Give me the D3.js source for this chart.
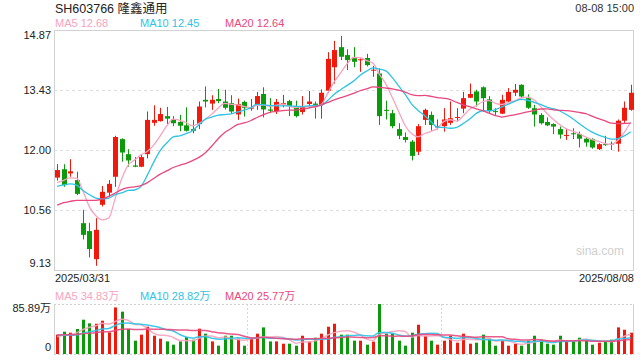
<!DOCTYPE html>
<html>
<head>
<meta charset="utf-8">
<script src="https://cdn.jsdelivr.net/npm/d3@7"></script>
<style>
  html, body { margin: 0; padding: 0; background: #fff; }
  svg { display: block; }
  text { font-family: "Liberation Sans", Arial, "Noto Sans CJK SC", sans-serif; }
</style>
</head>
<body>
<svg id="chart" width="640" height="360"></svg>
<script>
// ---------- DATA ----------
const title = "SH603766 隆鑫通用";
const timeLabel = "08-08 15:00";
const firstDate = "2025/03/31";
const lastDate = "2025/08/08";
const priceMALabels = ["MA5 12.68", "MA10 12.45", "MA20 12.64"];
const volMALabels = ["MA5 34.83万", "MA10 28.82万", "MA20 25.77万"];
const priceTickValues = [14.87, 13.435, 12.00, 10.565, 9.13];
const priceTickLabels = ["14.87", "13.43", "12.00", "10.56", "9.13"];
const volTickValues = [85.89, 0];
const volTickLabels = ["85.89万", "0"];
const watermark = "sina.com";

const opens = [11.34,11.54,11.44,11.28,10.25,10.06,9.39,10.69,10.98,11.36,
  12.26,11.90,11.63,11.60,11.90,12.65,12.69,12.81,12.73,12.67,
  12.59,12.50,12.62,13.20,13.11,13.22,13.16,13.12,12.85,13.15,
  12.99,13.07,13.34,12.97,12.93,13.10,13.17,13.04,12.91,13.10,
  13.11,13.08,13.42,13.98,14.46,14.27,14.22,14.15,14.20,13.90,
  13.83,12.96,12.88,12.50,12.31,12.20,11.96,12.72,12.84,12.54,
  12.57,12.65,12.77,12.99,13.25,13.40,13.50,13.21,12.93,12.87,
  13.16,13.37,13.56,13.24,13.00,12.84,12.67,12.62,12.50,12.34,
  12.40,12.38,12.27,12.26,12.02,12.14,12.15,12.15,12.70,12.96];
const highs = [11.66,11.66,11.78,11.48,10.57,10.26,10.37,11.14,11.28,12.34,
  12.28,12.02,11.83,11.90,12.92,13.07,13.01,13.03,12.81,12.84,
  13.02,12.72,13.16,13.52,13.31,13.46,13.44,13.31,13.23,13.18,
  13.22,13.39,13.50,13.24,13.22,13.32,13.20,13.18,13.29,13.41,
  13.16,13.45,14.34,14.61,14.73,14.41,14.46,14.19,14.30,14.01,
  13.95,13.18,12.96,12.64,12.42,12.24,12.62,12.99,12.92,12.73,
  13.00,13.16,13.00,13.39,13.59,13.44,13.52,13.29,13.00,13.32,
  13.48,13.58,13.57,13.33,13.08,12.88,12.78,12.64,12.56,12.51,
  12.52,12.44,12.30,12.28,12.16,12.34,12.20,12.73,13.16,13.56];
const lows = [11.27,11.12,11.36,10.92,9.86,9.43,9.23,10.65,10.88,11.12,
  11.72,11.60,11.59,11.59,11.80,12.58,12.68,12.62,12.57,12.45,
  12.44,12.40,12.50,13.02,12.96,13.12,12.97,12.86,12.72,12.80,
  12.94,12.96,12.78,12.88,12.86,13.02,12.81,12.78,12.85,13.00,
  12.75,12.75,13.36,13.59,14.15,13.91,13.98,13.87,14.00,13.75,
  12.60,12.73,12.52,12.26,12.18,11.75,11.88,12.60,12.46,12.49,
  12.44,12.60,12.68,12.88,13.24,13.04,12.92,12.88,12.84,12.86,
  13.13,13.29,13.24,12.98,12.56,12.61,12.57,12.38,12.27,12.24,
  12.26,12.06,12.08,12.03,12.00,12.10,12.00,11.96,12.65,12.94];
const closes = [11.52,11.16,11.49,10.95,9.97,9.63,10.09,11.00,11.19,12.31,
  11.94,11.75,11.60,11.83,12.72,12.72,12.86,12.75,12.64,12.58,
  12.46,12.46,13.04,13.16,13.20,13.17,13.01,12.92,13.10,13.01,
  13.02,13.29,12.97,12.94,13.15,13.12,13.05,12.81,13.04,13.16,
  13.08,13.37,14.18,14.39,14.23,14.15,14.11,14.17,14.03,13.92,
  12.81,12.94,12.57,12.34,12.24,11.86,12.57,12.96,12.60,12.57,
  12.73,12.76,12.79,13.24,13.34,13.16,13.24,12.93,12.91,13.20,
  13.39,13.44,13.28,13.01,12.85,12.64,12.59,12.56,12.37,12.36,
  12.38,12.27,12.18,12.06,12.14,12.13,12.14,12.70,13.01,13.37];
// volumes in 万 shares
const volumes = [33.2,38.3,36.6,43.0,58.9,52.6,52.0,57.2,37.1,80.0,
  72.7,43.0,22.9,33.2,46.9,31.4,26.3,21.6,16.0,21.6,
  29.2,24.6,43.5,34.9,21.6,14.3,31.4,31.4,26.3,14.3,
  27.5,34.9,45.7,21.6,21.6,17.7,17.7,14.3,31.4,21.6,
  28.0,34.9,46.9,52.0,33.2,33.2,22.9,22.9,16.0,21.3,
  85.89,34.9,34.9,22.9,14.3,36.6,50.3,31.4,22.9,16.0,
  22.9,31.4,19.4,34.9,17.7,19.4,33.2,26.3,14.3,22.9,
  14.3,17.7,14.3,22.9,31.4,24.6,17.7,16.0,31.4,22.9,
  22.9,28.0,24.6,16.0,19.4,21.3,24.6,45.7,41.7,36.6];
// sessions before the window (estimated from where the MA lines start)
const priorCloses = [10.00,10.89,10.40,9.97,9.63,10.09,10.30,9.99,10.71,10.34,
  10.81,11.24,11.25,11.27,10.63,10.89,11.20,10.99,11.51];
const priorVolumes = [30,36,28,33,40,31,27,35,38,30,34,42,36,29,33,26,31,28,30];

const maPeriods = [5, 10, 20];
const maColors = ["#f7a3c0", "#2ec3e6", "#e8487e"];
const upColor = "#f0190c";
const downColor = "#0a9a0a";

// ---------- LAYOUT ----------
const svg = d3.select("#chart");
const L = 54, R = 634;
const pTop = 30, pBot = 270;
const vTop = 304, vBot = 354;
const n = closes.length;
const idx = d3.range(n);

const x = d3.scaleBand().domain(idx).range([L, R]).padding(0);
const cx = i => x(i) + x.bandwidth() / 2;
const y = d3.scaleLinear().domain([9.13, 14.87]).range([pBot, pTop]);
const yv = d3.scaleLinear().domain([0, 85.89]).range([vBot, vTop]);

function movingAvg(prior, vals, p) {
  const all = prior.concat(vals);
  const off = prior.length;
  return vals.map((_, i) => d3.mean(all.slice(off + i - p + 1, off + i + 1)));
}

// ---------- PRICE PANEL ----------
const gridG = svg.append("g");
gridG.selectAll("line").data(priceTickValues.slice(1, 4)).join("line")
  .attr("x1", L).attr("x2", R)
  .attr("y1", d => Math.round(y(d)) + 0.5).attr("y2", d => Math.round(y(d)) + 0.5)
  .attr("stroke", "#dedede").attr("stroke-dasharray", "3,3");

svg.append("rect").attr("x", L + 0.5).attr("y", pTop + 0.5)
  .attr("width", R - L - 1).attr("height", pBot - pTop)
  .attr("fill", "none").attr("stroke", "#d2d2d2");

svg.append("g").selectAll("text").data(priceTickValues).join("text")
  .attr("x", 51)
  .attr("y", (d, i) => i === 0 ? y(d) + 9 : (i === priceTickValues.length - 1 ? y(d) - 3 : y(d) + 4))
  .attr("text-anchor", "end").attr("font-size", 11).attr("fill", "#222")
  .text((d, i) => priceTickLabels[i]);

svg.append("text").attr("x", 600).attr("y", 255).attr("text-anchor", "middle")
  .attr("font-size", 12).attr("fill", "#d0d0d0").text(watermark);

const candles = svg.append("g").selectAll("g").data(idx).join("g");
candles.append("line")
  .attr("x1", i => Math.round(cx(i)) + 0.5).attr("x2", i => Math.round(cx(i)) + 0.5)
  .attr("y1", i => y(highs[i])).attr("y2", i => y(lows[i]))
  .attr("stroke", i => closes[i] >= opens[i] ? upColor : downColor).attr("stroke-width", 1);
candles.append("rect")
  .attr("x", i => Math.round(cx(i)) + 0.5 - 2.5)
  .attr("width", 5)
  .attr("y", i => y(Math.max(opens[i], closes[i])))
  .attr("height", i => Math.max(1, Math.abs(y(opens[i]) - y(closes[i]))))
  .attr("fill", i => closes[i] >= opens[i] ? upColor : downColor);

const lineGen = d3.line().x((d, i) => cx(i)).y(d => y(d)).curve(d3.curveMonotoneX);
maPeriods.forEach((p, k) => {
  const ma = movingAvg(priorCloses, closes, p);
  svg.append("path").datum(ma).attr("d", lineGen)
    .attr("fill", "none").attr("stroke", maColors[k]).attr("stroke-width", 1.3);
});

svg.append("text").attr("x", 55).attr("y", 13).attr("font-size", 12.5).attr("fill", "#222").text(title);
svg.append("text").attr("x", 634).attr("y", 12).attr("text-anchor", "end")
  .attr("font-size", 11).attr("fill", "#333").text(timeLabel);
const maXs = [55, 140, 225];
priceMALabels.forEach((t, k) => {
  svg.append("text").attr("x", maXs[k]).attr("y", 27).attr("font-size", 11)
    .attr("fill", maColors[k]).text(t);
});

svg.append("text").attr("x", 55).attr("y", 282).attr("font-size", 11).attr("fill", "#222").text(firstDate);
svg.append("text").attr("x", 634).attr("y", 282).attr("text-anchor", "end")
  .attr("font-size", 11).attr("fill", "#222").text(lastDate);

// ---------- VOLUME PANEL ----------
volMALabels.forEach((t, k) => {
  svg.append("text").attr("x", maXs[k]).attr("y", 300).attr("font-size", 11)
    .attr("fill", maColors[k]).text(t);
});
svg.append("line").attr("x1", L).attr("x2", R).attr("y1", vTop + 0.5).attr("y2", vTop + 0.5)
  .attr("stroke", "#cfcfcf").attr("stroke-dasharray", "2,2");
svg.append("line").attr("x1", L).attr("x2", R).attr("y1", vBot + 0.5).attr("y2", vBot + 0.5)
  .attr("stroke", "#cfcfcf").attr("stroke-dasharray", "2,2");
[L + (R - L) / 3, L + 2 * (R - L) / 3].forEach(vx => {
  svg.append("line").attr("x1", Math.round(vx) + 0.5).attr("x2", Math.round(vx) + 0.5)
    .attr("y1", vTop).attr("y2", vBot).attr("stroke", "#d6d6d6").attr("stroke-dasharray", "2,2");
});
svg.append("line").attr("x1", L + 0.5).attr("x2", L + 0.5).attr("y1", vTop).attr("y2", vBot + 1)
  .attr("stroke", "#d2d2d2");
svg.append("line").attr("x1", R - 0.5).attr("x2", R - 0.5).attr("y1", vTop).attr("y2", vBot + 1)
  .attr("stroke", "#d2d2d2");

svg.append("g").selectAll("text").data(volTickValues).join("text")
  .attr("x", 51).attr("y", (d, i) => i === 0 ? yv(d) + 8 : yv(d) - 3)
  .attr("text-anchor", "end").attr("font-size", 11).attr("fill", "#222")
  .text((d, i) => volTickLabels[i]);

svg.append("g").selectAll("rect").data(idx).join("rect")
  .attr("x", i => Math.round(cx(i)) - 1)
  .attr("width", 3)
  .attr("y", i => yv(volumes[i]))
  .attr("height", i => vBot - yv(volumes[i]))
  .attr("fill", i => closes[i] >= opens[i] ? upColor : downColor);

const vLine = d3.line().x((d, i) => cx(i)).y(d => yv(d)).curve(d3.curveMonotoneX);
maPeriods.forEach((p, k) => {
  const ma = movingAvg(priorVolumes, volumes, p);
  svg.append("path").datum(ma).attr("d", vLine)
    .attr("fill", "none").attr("stroke", maColors[k]).attr("stroke-width", 1.5).attr("opacity", 0.9);
});
</script>
</body>
</html>
